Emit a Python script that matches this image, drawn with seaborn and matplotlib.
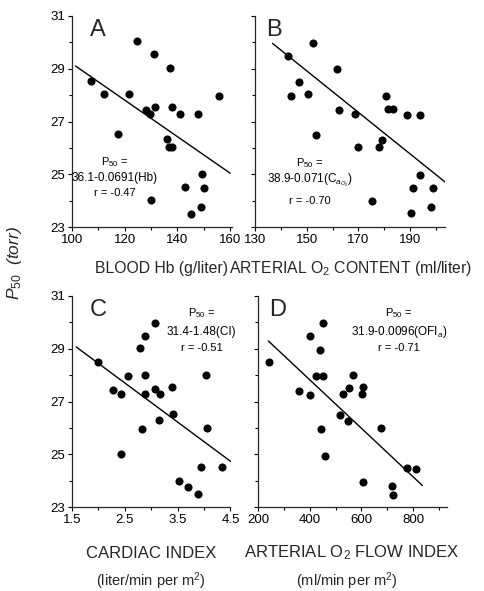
import matplotlib
matplotlib.use("Agg")
import matplotlib.pyplot as plt
from matplotlib import font_manager
from matplotlib.ticker import MultipleLocator
import seaborn as sns
import pandas as pd

# ---------------- data ----------------
hb_x = [107.3, 112.0, 124.5, 131.1, 137.2, 121.5, 155.6, 128.2, 129.7, 131.4, 137.8, 141.0,
        147.7, 117.3, 135.9, 136.7, 138.0, 149.2, 142.7, 150.1, 130.0, 149.1, 145.1]
hb_y = [28.54, 28.03, 30.06, 29.54, 29.01, 28.04, 27.98, 27.44, 27.28, 27.54, 27.54, 27.28,
        27.30, 26.53, 26.34, 26.04, 26.04, 25.01, 24.51, 24.50, 24.02, 23.78, 23.52]

cao2_x = [152.3, 142.6, 161.9, 146.9, 143.8, 150.5, 180.6, 162.6, 168.5, 181.4, 183.2, 188.7,
          193.9, 153.6, 179.0, 170.0, 178.0, 193.9, 191.3, 199.0, 175.2, 198.0, 190.3]
cao2_y = [29.95, 29.49, 28.98, 28.51, 27.98, 28.03, 27.98, 27.42, 27.28, 27.47, 27.47, 27.25,
          27.25, 26.50, 26.30, 26.04, 26.04, 24.98, 24.50, 24.50, 24.01, 23.78, 23.53]

ci_x = [3.07, 2.88, 2.79, 2.00, 2.56, 2.88, 4.03, 2.27, 2.42, 2.88, 3.08, 3.16,
        3.39, 3.42, 3.14, 2.83, 4.05, 2.42, 3.95, 4.33, 3.52, 3.70, 3.88]
ci_y = [29.98, 29.49, 29.01, 28.50, 27.96, 28.00, 28.02, 27.42, 27.28, 27.28, 27.49, 27.28,
        27.54, 26.53, 26.30, 25.97, 26.01, 25.01, 24.51, 24.51, 24.00, 23.78, 23.52]

ofi_x = [450, 400, 439, 244, 423, 453, 566, 360, 400, 529, 552, 608,
         601, 517, 547, 443, 676, 459, 775, 810, 606, 719, 721]
ofi_y = [29.98, 29.48, 28.96, 28.48, 27.98, 27.98, 27.99, 27.40, 27.26, 27.28, 27.50, 27.54,
         27.28, 26.49, 26.28, 25.97, 26.00, 24.95, 24.49, 24.45, 23.95, 23.80, 23.47]

# regression lines as drawn: (intercept, slope, x start, x end)
line_A = (36.1, -0.0691, 101.3, 160.0)
line_B = (40.69, -0.0785, 136.8, 203.8)
line_C = (31.4, -1.48, 1.58, 4.54)
line_D = (31.49, -0.00917, 240.0, 836.0)

labels = ["A", "B", "C", "D"]
eq_A = ["P$_{50}$ =", "36.1-0.0691(Hb)", "r = -0.47"]
eq_B = ["P$_{50}$ =", "38.9-0.071(C$_{a_{O_2}}$)", "r = -0.70"]
eq_C = ["P$_{50}$ =", "31.4-1.48(CI)", "r = -0.51"]
eq_D = ["P$_{50}$ =", "31.9-0.0096(OFI$_a$)", "r = -0.71"]

xticks_A = [100, 120, 140, 160]
xticks_B = [130, 150, 170, 190]
xticks_C = [1.5, 2.5, 3.5, 4.5]
xticks_D = [200, 400, 600, 800]
xtick_labels_C = ["1.5", "2.5", "3.5", "4.5"]
yticks = [23, 25, 27, 29, 31]

# ---------------- style ----------------
sns.set_style("ticks")
avail = {f.name for f in font_manager.fontManager.ttflist}
fam = "Liberation Sans Narrow" if "Liberation Sans Narrow" in avail else "Liberation Sans"
plt.rcParams["font.family"] = [fam, "DejaVu Sans"]
plt.rcParams["mathtext.fontset"] = "custom"
plt.rcParams["mathtext.rm"] = fam
plt.rcParams["mathtext.it"] = fam + ":italic"

W, H = 485, 591
fig = plt.figure(figsize=(W / 100, H / 100), dpi=100)

def ax_at(l, r, t, b):
    return fig.add_axes([l / W, 1 - b / H, (r - l) / W, (b - t) / H])

axA = ax_at(72, 231.5, 15.7, 227.3)
axB = ax_at(255, 445, 15.7, 227.3)
axC = ax_at(72, 230.5, 295.7, 507.3)
axD = ax_at(258, 446.7, 295.7, 507.3)

panels = [
    (axA, hb_x, hb_y, line_A, eq_A, (100, 160.5), xticks_A, None, 10, (116.2, [25.47, 24.86, 24.30])),
    (axB, cao2_x, cao2_y, line_B, eq_B, (130, 203.5), xticks_B, None, 10, (151.3, [25.43, 24.79, 23.99])),
    (axC, ci_x, ci_y, line_C, eq_C, (1.5, 4.5), xticks_C, xtick_labels_C, 0.5, (3.95, [30.35, 29.63, 29.02])),
    (axD, ofi_x, ofi_y, line_D, eq_D, (200, 930), xticks_D, None, 100, (745, [30.35, 29.63, 29.02])),
]

for i, (ax, xs, ys, ln, eq, xlim, xt, xtl, minor, (tx, tys)) in enumerate(panels):
    df = pd.DataFrame({"x": xs, "y": ys})
    sns.scatterplot(data=df, x="x", y="y", ax=ax, color="black", s=34,
                    edgecolor="black", linewidth=0, zorder=3)
    a, b_, x0, x1 = ln
    ldf = pd.DataFrame({"x": [x0, x1], "y": [a + b_ * x0, a + b_ * x1]})
    sns.lineplot(data=ldf, x="x", y="y", ax=ax, color="black", linewidth=1.0, zorder=2)
    ax.set_xlim(*xlim)
    ax.set_ylim(23, 31)
    ax.set_xlabel("")
    ax.set_ylabel("")
    ax.set_xticks(xt)
    if xtl is not None:
        ax.set_xticklabels(xtl)
    ax.xaxis.set_minor_locator(MultipleLocator(minor))
    ax.set_yticks(yticks)
    ax.yaxis.set_minor_locator(MultipleLocator(1))
    if i in (1, 3):
        ax.set_yticklabels([])
    sns.despine(ax=ax)
    for sp in ("left", "bottom"):
        ax.spines[sp].set_linewidth(0.9)
    ax.tick_params(axis="both", which="both", direction="out", width=0.8, colors="black")
    ax.tick_params(axis="both", which="major", length=3, labelsize=9.5, pad=2)
    ax.tick_params(axis="both", which="minor", length=2)
    ax.text(0.11 if i in (0, 2) else 0.06, 0.985, labels[i], transform=ax.transAxes,
            fontsize=17, ha="left", va="top")
    sizes = [8, 8.5, 8]
    for line_txt, ty, fs in zip(eq, tys, sizes):
        ax.text(tx, ty, line_txt, ha="center", va="center", fontsize=fs, color="black")

fig.text(95 / W, 1 - 268 / H, "BLOOD Hb (g/liter)", ha="left", va="center", fontsize=11.3)
fig.text(229.5 / W, 1 - 268 / H, "ARTERIAL O$_2$ CONTENT (ml/liter)", ha="left", va="center", fontsize=11.3)
fig.text(151 / W, 1 - 553 / H, "CARDIAC INDEX", ha="center", va="center", fontsize=12)
fig.text(151 / W, 1 - 581 / H, "(liter/min per m$^2$)", ha="center", va="center", fontsize=10.5)
fig.text(352 / W, 1 - 553 / H, "ARTERIAL O$_2$ FLOW INDEX", ha="center", va="center", fontsize=12)
fig.text(347 / W, 1 - 581 / H, "(ml/min per m$^2$)", ha="center", va="center", fontsize=10.5)
fig.text(15 / W, 1 - 263 / H, "$P_{50}$  (torr)", rotation=90, ha="center", va="center",
         fontsize=12.5, style="italic")

fig.savefig("out.png", dpi=100, facecolor="white")
